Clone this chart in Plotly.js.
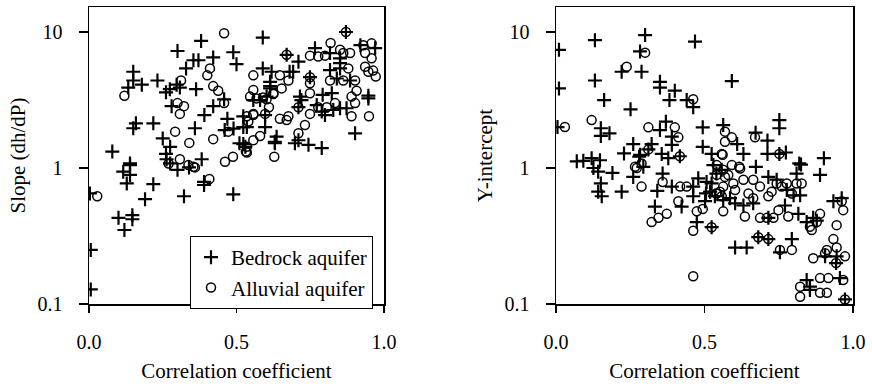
<!DOCTYPE html>
<html>
<head>
<meta charset="utf-8">
<script src="https://cdn.plot.ly/plotly-3.0.1.min.js"></script>
<style>html,body{margin:0;padding:0;background:#fff;}#chart{width:872px;height:387px;}</style>
</head>
<body>
<div id="chart"></div>
<script>
// ---- Data ----
const xTickVals = [0, 0.5, 1];
const xTickText = ["0.0", "0.5", "1.0"];
const yTickVals = [0.1, 1, 10];
const yTickText = ["0.1", "1", "10"];
const seriesNames = ["Bedrock aquifer", "Alluvial aquifer"];
const xTitle = "Correlation coefficient";
const leftYTitle = "Slope (dh/dP)";
const rightYTitle = "Y-intercept";

// Left panel: slope, bedrock (+)
const slopeBedrockX = [0.589,0.380,0.30,0.489,0.50,0.421,0.354,0.371,0.329,0.150,0.150,0.179,0.232,0.133,0.297,0.308,0.261,0.274,0.363,0.458,0.28,0.421,0.391,0.469,0.557,0.58,0.602,0.589,0.619,0.614,0.159,0.150,0.218,0.359,0.25,0.275,0.46,0.49,0.523,0.535,0.53,0.51,0.079,0.139,0.261,0.263,0.275,0.382,0.63,
  0.139,0.116,0.139,0.128,0.218,0.19,0.10,0.12,0.147,0.147,0.003,0.006,0.006,0.30,0.339,0.39,0.39,0.322,0.489,
  0.871,0.67,0.71,0.766,0.817,0.92,0.97,0.851,0.851,0.851,0.817,0.84,0.885,0.947,0.947,0.902,0.873,0.851,0.828,0.789,0.80,0.772,0.792,0.823,0.749,0.715,0.72,0.71,0.71,0.744,0.698,0.789,0.636,0.63,0.597,0.597,0.523,0.523,0.614,0.614,0.68,0.692];
const slopeBedrockY = [9.1,8.6,7.25,7.1,5.8,6.5,6.2,6.2,5.4,5.1,4.4,4.1,4.4,3.9,4.1,3.9,3.6,3.8,3.8,3.2,2.85,2.85,2.45,2.3,3.16,3.16,3.35,5.4,5.1,4.0,2.13,1.96,2.13,1.96,1.65,1.43,1.9,1.95,2.0,2.0,1.43,1.52,1.32,1.08,1.27,1.16,1.08,1.16,1.52,
  1.05,0.94,0.89,0.77,0.76,0.59,0.43,0.35,0.45,0.42,0.65,0.25,0.128,0.97,1.01,0.79,0.75,0.62,0.64,
  10.0,6.8,6.05,7.6,7.0,8.0,7.6,6.4,5.9,5.4,5.25,4.55,4.4,3.4,3.25,1.8,2.75,2.75,2.67,2.6,2.45,2.9,3.45,3.55,4.65,3.35,3.16,2.8,1.6,1.48,1.52,1.4,1.7,1.56,2.45,2.0,1.5,2.4,4.3,3.85,5.1,5.1];

// Left panel: slope, alluvial (o)
const slopeAlluvialX = [0.458,0.41,0.401,0.12,0.312,0.421,0.438,0.458,0.30,0.322,0.308,0.557,0.557,0.546,0.568,0.59,0.602,0.625,0.61,0.557,0.535,0.292,0.34,0.421,0.472,0.58,0.557,0.532,0.488,0.461,0.308,0.27,0.354,0.337,0.628,0.028,0.359,0.408,0.535,
  0.819,0.871,0.67,0.749,0.777,0.80,0.851,0.862,0.885,0.93,0.958,0.936,0.958,0.879,0.902,0.862,0.817,0.936,0.947,0.963,0.972,0.907,0.89,0.902,0.89,0.949,0.834,0.806,0.777,0.749,0.749,0.749,0.71,0.749,0.732,0.71,0.676,0.647,0.67,0.597,0.535,0.557,0.54,0.647,0.676,0.653,0.625];
const slopeAlluvialY = [9.8,5.4,4.8,3.4,4.4,4.0,3.7,3.0,3.0,2.85,2.5,4.8,3.75,3.35,3.25,3.3,3.2,3.5,2.8,2.45,2.4,1.85,1.53,1.63,1.85,1.72,1.6,1.32,1.21,1.11,1.16,1.08,1.02,1.05,1.21,0.62,1.01,0.83,1.30,
  8.3,10.0,6.8,6.7,6.6,6.7,7.4,7.0,7.0,8.0,8.25,7.0,6.4,5.4,4.4,4.4,4.4,5.55,5.1,5.2,4.7,3.7,3.35,3.0,2.4,2.4,3.0,2.8,2.8,3.55,4.2,4.65,2.8,2.5,2.07,1.8,2.4,2.3,2.25,2.5,1.43,2.5,2.2,4.8,4.4,3.85,3.55];

// Right panel: Y-intercept, bedrock (+)
const interceptBedrockX = [0.01,0.01,0.005,0.131,0.131,0.162,0.30,0.468,0.283,0.221,0.288,0.35,0.35,0.40,0.382,0.44,0.462,0.251,0.151,0.18,0.151,0.35,0.37,0.39,0.39,0.494,0.563,0.494,0.524,0.311,0.322,0.417,0.26,0.229,0.283,0.356,0.378,0.092,0.12,0.148,0.07,0.126,0.142,0.151,0.142,0.154,0.19,0.221,0.26,0.28,0.294,0.359,0.341,0.333,0.39,0.423,0.462,0.462,0.474,0.524,0.479,0.507,0.524,0.502,0.505,0.53,0.54,0.558,
  0.592,0.752,0.752,0.61,0.672,0.712,0.631,0.712,0.752,0.774,0.819,0.825,0.902,0.673,0.81,0.889,0.519,0.535,0.563,0.586,0.603,0.631,0.664,0.715,0.715,0.743,0.777,0.8,0.822,0.771,0.816,0.844,0.866,0.878,0.934,0.962,0.603,0.642,0.681,0.715,0.754,0.794,0.906,0.945,0.943,0.844,0.855,0.956,0.855,0.973];
const interceptBedrockY = [7.4,3.85,2.0,8.7,4.4,3.16,9.5,8.5,7.2,5.1,5.1,4.3,3.9,3.7,3.16,3.16,2.8,2.7,1.96,1.8,1.72,1.9,2.19,1.7,1.48,1.99,2.07,1.43,1.27,1.37,1.5,1.22,1.5,1.28,1.25,1.27,1.18,1.13,1.18,1.14,1.12,1.0,0.94,0.77,0.67,0.62,0.92,0.67,0.86,1.21,1.02,0.91,0.68,0.52,0.73,0.52,0.73,0.62,0.40,0.367,0.84,0.79,0.77,0.57,0.65,1.05,0.91,0.97,
  4.36,2.25,1.96,1.5,1.82,1.59,1.27,1.27,1.27,1.3,1.08,1.06,1.18,1.02,0.91,0.89,0.67,0.62,0.58,0.6,0.55,0.53,0.55,0.43,0.86,0.82,0.69,0.63,0.63,0.53,0.46,0.40,0.43,0.41,0.57,0.6,0.26,0.26,0.31,0.30,0.24,0.30,0.224,0.224,0.2,0.15,0.134,0.155,0.127,0.108];

// Right panel: Y-intercept, alluvial (o)
const interceptAlluvialX = [0.03,0.30,0.238,0.462,0.12,0.311,0.40,0.412,0.569,0.569,0.561,0.311,0.417,0.266,0.288,0.272,0.288,0.359,0.322,0.345,0.373,0.418,0.44,0.412,0.474,0.494,0.462,0.524,0.462,0.54,0.558,0.552,0.563,0.563,0.563,0.569,
  0.592,0.67,0.752,0.558,0.617,0.592,0.541,0.541,0.58,0.62,0.631,0.597,0.603,0.541,0.636,0.687,0.71,0.732,0.664,0.687,0.664,0.648,0.715,0.726,0.743,0.76,0.777,0.81,0.827,0.794,0.749,0.782,0.855,0.861,0.878,0.889,0.945,0.967,0.962,0.681,0.715,0.754,0.794,0.866,0.906,0.912,0.945,0.973,0.943,0.934,0.889,0.917,0.967,0.822,0.822,0.889,0.912,0.973];
const interceptAlluvialY = [2.0,7.05,5.55,3.2,2.25,1.99,1.99,1.68,1.85,1.56,1.25,1.37,1.22,1.02,1.08,1.0,0.73,0.79,0.40,0.43,0.46,0.73,0.73,0.57,0.48,0.5,0.346,0.367,0.16,0.65,0.62,0.67,0.73,0.48,0.97,0.86,
  1.68,1.68,1.27,1.27,1.02,1.05,1.05,0.89,0.89,0.99,0.82,0.77,0.69,0.65,0.44,0.43,0.43,0.43,0.82,0.73,0.6,0.65,0.62,0.67,0.77,0.73,0.77,0.77,0.77,0.65,0.49,0.44,0.37,0.35,0.4,0.46,0.38,0.49,0.57,0.31,0.30,0.25,0.25,0.217,0.236,0.25,0.26,0.224,0.2,0.30,0.155,0.155,0.15,0.134,0.113,0.121,0.121,0.108];

// ---- Styles ----
const FONT = "Liberation Serif, Times New Roman, serif";
const crossMarker = {symbol: "cross-thin-open", size: 10, color: "#000", line: {color: "#000", width: 2.2}};
const circleMarker = {symbol: "circle-open", size: 9, color: "#000", line: {color: "#000", width: 1.5}};

const traces = [
  {x: slopeBedrockX, y: slopeBedrockY, xaxis: "x", yaxis: "y", type: "scatter", mode: "markers", name: seriesNames[0], marker: crossMarker},
  {x: slopeAlluvialX, y: slopeAlluvialY, xaxis: "x", yaxis: "y", type: "scatter", mode: "markers", name: seriesNames[1], marker: circleMarker},
  {x: interceptBedrockX, y: interceptBedrockY, xaxis: "x2", yaxis: "y2", type: "scatter", mode: "markers", name: seriesNames[0], marker: crossMarker, showlegend: false},
  {x: interceptAlluvialX, y: interceptAlluvialY, xaxis: "x2", yaxis: "y2", type: "scatter", mode: "markers", name: seriesNames[1], marker: circleMarker, showlegend: false}
];

function xAxis(domain, anchor) {
  return {
    domain: domain, anchor: anchor, range: [0, 1],
    tickmode: "array", tickvals: xTickVals, ticktext: xTickText,
    ticks: "outside", ticklen: 7, tickwidth: 1.2, tickcolor: "#000",
    ticklabelstandoff: 12,
    showline: true, mirror: true, linecolor: "#000", linewidth: 1.5,
    showgrid: false, zeroline: false,
    tickfont: {family: FONT, size: 20, color: "#000"},
    title: {text: xTitle, font: {family: FONT, size: 21, color: "#000"}, standoff: 12}
  };
}
function yAxis(domainAnchor, title) {
  return {
    anchor: domainAnchor, type: "log", range: [-1, 1.1838],
    tickmode: "array", tickvals: yTickVals, ticktext: yTickText,
    ticks: "outside", ticklen: 9, tickwidth: 1.2, tickcolor: "#000",
    ticklabelstandoff: 12,
    showline: true, mirror: true, linecolor: "#000", linewidth: 1.5,
    showgrid: false, zeroline: false,
    tickfont: {family: FONT, size: 20, color: "#000"},
    title: {text: title, font: {family: FONT, size: 21, color: "#000"}, standoff: 6}
  };
}

const layout = {
  width: 872, height: 387,
  margin: {l: 89, r: 19, t: 7, b: 83},
  paper_bgcolor: "#fff", plot_bgcolor: "#fff",
  font: {family: FONT, color: "#000"},
  showlegend: true,
  legend: {
    x: 0.1322, y: 0.229, xanchor: "left", yanchor: "top",
    bordercolor: "#000", borderwidth: 1, bgcolor: "#fff",
    font: {family: FONT, size: 21, color: "#000"},
    itemwidth: 30, tracegroupgap: 0
  },
  xaxis: xAxis([0, 0.38613], "y"),
  yaxis: yAxis("x", leftYTitle),
  xaxis2: xAxis([0.61126, 1.0], "y2"),
  yaxis2: yAxis("x2", rightYTitle)
};

Plotly.newPlot("chart", traces, layout, {displayModeBar: false, staticPlot: true});
</script>
</body>
</html>
